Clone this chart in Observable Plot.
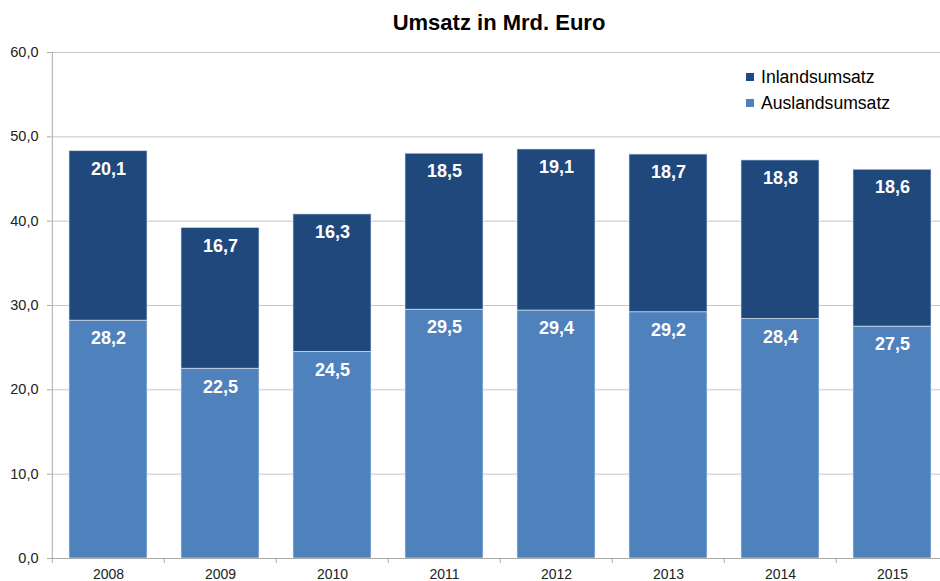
<!DOCTYPE html>
<html>
<head>
<meta charset="utf-8">
<script src="https://cdn.jsdelivr.net/npm/d3@7"></script>
<script src="https://cdn.jsdelivr.net/npm/@observablehq/plot@0.6"></script>
<style>
  body { margin: 0; background: #fff; font-family: "Liberation Sans", Arial, sans-serif; }
  #wrap { position: relative; width: 940px; height: 581px; overflow: hidden; }
  #title { box-sizing: border-box; width: 940px; height: 40px; padding-left: 58px; text-align: center;
           font-weight: bold; font-size: 22px; line-height: 45px; color: #000; }
  #legend { position: absolute; left: 746px; top: 64px; font-size: 17.6px; color: #000; }
  #legend .item { display: flex; align-items: center; height: 26px; }
  #legend .sw { width: 8px; height: 8px; margin-right: 7px; }
  svg { display: block; }
</style>
</head>
<body>
<div id="wrap">
  <div id="title">Umsatz in Mrd. Euro</div>
  <div id="chart"></div>
  <div id="legend"></div>
</div>
<script>
const years = ["2008", "2009", "2010", "2011", "2012", "2013", "2014", "2015"];
const auslandsumsatz = [28.2, 22.5, 24.5, 29.5, 29.4, 29.2, 28.4, 27.5];
const inlandsumsatz = [20.1, 16.7, 16.3, 18.5, 19.1, 18.7, 18.8, 18.6];
const seriesNames = ["Auslandsumsatz", "Inlandsumsatz"];
const seriesColors = ["#4F81BD", "#1F497D"];
const yTicks = [0, 10, 20, 30, 40, 50, 60];
const legendOrder = ["Inlandsumsatz", "Auslandsumsatz"];

const data = years.flatMap((year, i) => [
  { year, series: "Auslandsumsatz", value: auslandsumsatz[i] },
  { year, series: "Inlandsumsatz", value: inlandsumsatz[i] }
]);

const fmt = v => v.toFixed(1).replace(".", ",");
const step = (950 - 50.7) / years.length;

const chart = Plot.plot({
  width: 940,
  height: 541,
  marginLeft: 51,
  marginRight: 0,
  marginTop: 12,
  marginBottom: 23,
  style: { fontFamily: "'Liberation Sans', Arial, sans-serif", background: "#fff" },
  x: { domain: years, range: [50.7, 950], paddingInner: 0.306, paddingOuter: 0.153, label: null },
  y: { domain: [0, 60], label: null },
  color: { domain: seriesNames, range: seriesColors },
  marks: [
    Plot.gridY(yTicks, { stroke: "#c4c4c4", strokeOpacity: 1 }),
    Plot.barY(data, {
      x: "year", y: "value", fill: "series",
      stroke: "#dfe8f3", strokeWidth: 0.8, strokeOpacity: 0.8
    }),
    Plot.text(data, Plot.stackY2({
      x: "year", y: "value", text: d => fmt(d.value),
      fill: "white", fontWeight: "bold", fontSize: 18, dy: 18, lineAnchor: "middle"
    })),
    Plot.ruleY([0], { stroke: "#a9a9a9" }),
    Plot.ruleX([0], { x: () => years[0], dx: -step / 2, y1: 0, y2: 60, stroke: "#a9a9a9" }),
    Plot.axisY({
      ticks: yTicks, tickFormat: fmt, tickSize: 4, tickPadding: 9,
      fontSize: 14.5, stroke: "#a9a9a9", color: "#222", label: null
    }),
    Plot.axisX({
      tickSize: 5, dx: -step / 2, text: null, stroke: "#a9a9a9"
    }),
    Plot.axisX({
      tickSize: 0, tickPadding: 11, fontSize: 14, color: "#222", label: null
    })
  ]
});
document.getElementById("chart").appendChild(chart);

const legend = document.getElementById("legend");
legendOrder.forEach(name => {
  const item = document.createElement("div");
  item.className = "item";
  const sw = document.createElement("span");
  sw.className = "sw";
  sw.style.background = seriesColors[seriesNames.indexOf(name)];
  const label = document.createElement("span");
  label.textContent = name;
  item.appendChild(sw);
  item.appendChild(label);
  legend.appendChild(item);
});
</script>
</body>
</html>
